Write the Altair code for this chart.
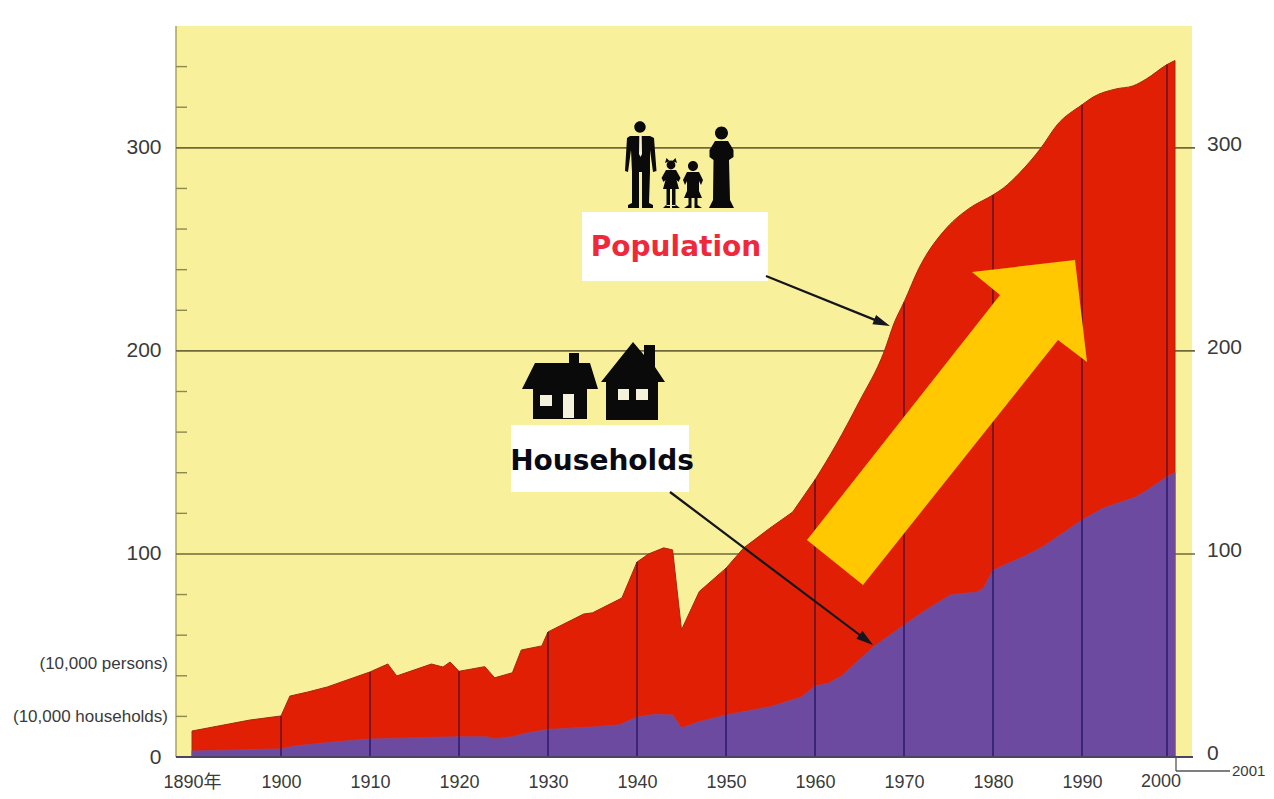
import altair as alt
import pandas as pd

pop_years = [1890,1896.5,1900,1901,1903,1905.2,1910,1912,1913,1916.9,1918.2,1919,1920,1922.9,1924,1926,1927,1929.3,1930,1934,1935,1938.3,1940,1941.3,1943,1944,1945,1947,1950,1952,1954.9,1957.5,1960,1962.4,1964.9,1967.8,1968.9,1970,1971.7,1974.8,1977.4,1980,1981.2,1983,1985.4,1987.2,1990,1991.3,1994,1996,1997.6,2000,2001]
pop_vals = [12.8,18.2,20.2,30,32,34.5,41.9,45.8,39.9,45.8,44.3,46.8,42.2,44.5,39,41.5,52.7,54.7,61.6,70.4,71,78.3,96,100,103,102,62.6,81.5,93,103,112.6,120.7,136.5,154,174.4,200,213.8,224,240.9,260.6,270.4,276.8,280.3,287.7,300,311.3,321.2,325,329,330.5,334,341,343]
hh_years = [1890,1900,1901.5,1905,1908.5,1910,1920,1923,1924,1926,1927.5,1930,1935,1938,1940,1942,1944,1945,1947,1950,1955,1958.5,1960,1961.5,1963,1966.5,1970,1972.1,1975.2,1978.2,1978.9,1980,1983.8,1985.6,1990,1992.5,1996.3,1997.7,2000,2001]
hh_vals = [3,4,5.4,7,8.4,8.9,10,10,9,10,11.7,13.6,14.8,15.8,19.7,21,20.7,14.3,17.4,20.7,24.8,29.6,35,36.3,40,54,65,71.4,79.8,81.3,83,92,99.5,103.6,116.7,122.6,128,131.5,138,140]
decades = [1900,1910,1920,1930,1940,1950,1960,1970,1980,1990,2000]
decade_pop = [20.2,41.9,42.2,61.6,96,93,136.5,224,276.8,321.2,341]
decade_hh = [4,8.9,10,13.6,19.7,20.7,35,65,92,116.7,138]
x_tick_labels = [1890,1900,1910,1920,1930,1940,1950,1960,1970,1980,1990]
grid_vals = [100,200,300]
minor_vals = [20,40,60,80,120,140,160,180,220,240,260,280,320,340]
right_labels = [0,100,200,300]

FONT = "Liberation Sans, Noto Sans CJK JP"
TXT = "#3a3a3a"
W, H = 1016, 731
OX, OY = 176, 26  # image position of the plot's origin

x_scale = alt.Scale(domain=[1888.2,1990,2000,2001,2002.9], range=[0,906,991,999,1016], nice=False, zero=False)
y_scale = alt.Scale(domain=[0,360], range=[731,0], nice=False, zero=False)
X = lambda f: alt.X(f, type="quantitative", scale=x_scale, title=None)
Y = lambda f: alt.Y(f, type="quantitative", scale=y_scale, title=None)

def circle(cx, cy, r):
    return f"M{cx-r} {cy}a{r} {r} 0 1 0 {2*r} 0a{r} {r} 0 1 0 {-2*r} 0Z"

def rect(x0, y0, x1, y1):
    return f"M{x0} {y0}L{x1} {y0}L{x1} {y1}L{x0} {y1}Z"

def arrow(x0, y0, x1, y1, hl=17, hw=5, sw=1.1):
    dx, dy = x1-x0, y1-y0
    n = (dx*dx+dy*dy)**0.5
    ux, uy = dx/n, dy/n
    nx, ny = -uy, ux
    bx, by = x1-ux*hl, y1-uy*hl
    p = [(x0+nx*sw,y0+ny*sw),(bx+nx*sw,by+ny*sw),(bx+nx*hw,by+ny*hw),(x1,y1),(bx-nx*hw,by-ny*hw),(bx-nx*sw,by-ny*sw),(x0-nx*sw,y0-ny*sw)]
    return "M"+"L".join(f"{a:.1f} {b:.1f}" for a,b in p)+"Z"

def shape(path, color):
    return alt.Chart(pd.DataFrame({"k":[0]})).mark_point(shape=path, size=4, filled=True, fill=color, opacity=1, strokeWidth=0).encode(x=alt.value(-OX), y=alt.value(-OY))

def line_px(x0, y0, x1, y1, color, sw=1.5):
    return alt.Chart(pd.DataFrame({"k":[0]})).mark_rule(color=color, strokeWidth=sw).encode(
        x=alt.value(x0-OX), x2=alt.value(x1-OX), y=alt.value(y0-OY), y2=alt.value(y1-OY))

def text_px(s, x, y, **kw):
    return alt.Chart(pd.DataFrame({"t":[s]})).mark_text(**kw).encode(x=alt.value(x-OX), y=alt.value(y-OY), text="t:N")

man = (circle(640,127,5.7)+"M630 136L650 136L654 138L656.5 171L653 172L650 150L650 172L649 203L653 205L653 208L642 208L642 172L639 172L639 208L628 208L628 205L632 203L632 172L631 150L628 172L625 171L627 138Z")
tie = "M639.3 136L641.7 136L642 154L640.5 157L639 154Z"
girl = (circle(671,165,4.4)+"M666.5 158L669.5 161L665 163ZM675.5 158L672.5 161L677 163Z"
        "M666 170L676 170L680.5 178L678.5 182L676.5 180L679 189L663 189L665.5 180L663.5 182L661.5 178Z"
        +rect(666.5,188,670,206)+rect(672,188,675.5,206)+"M663 208L670 208L670 205L666 205ZM672 205L672 208L680 208L676 205Z")
boy = (circle(693,166,5)+"M687 172L699 172L703 180L701 185L699 181L699 191L702 198L697.5 198L697.5 205L702 208L694.5 208L694.5 198L691.5 198L691.5 208L684 208L688.5 205L688.5 198L684 198L687 191L687 181L685 185L683 180Z")
woman = (circle(721.5,133,6.5)+"M715 141L728 141L733.5 150L733.5 157L729 160L730 200L734 208L709 208L713 200L713.5 160L709.5 157L709.5 150Z")
house1 = ("M522 389L535 363L569 363L569 353L579 353L579 363L590 363L598 389L587 389L587 419L533 419L533 389Z")
house1_w = rect(540,395,552,406)+rect(563,394,574,418)
house2 = ("M633 342L644 355L644 345L655 345L655 367L665 382L658 382L658 420L606 420L606 382L601 382Z")
house2_w = rect(618,389,629,400)+rect(636,389,648,400)
big_arrow = "M1075 260L972 272L1000 295L807 540L863 585L1058 340L1087 362Z"

pop = pd.DataFrame({"year":pop_years,"v":pop_vals})
hh = pd.DataFrame({"year":hh_years,"v":hh_vals})
dec = pd.DataFrame({"year":decades,"p":decade_pop,"h":decade_hh})

base_axis = alt.Chart(pd.DataFrame({"year":x_tick_labels,"v":[0]*len(x_tick_labels)})).mark_point(opacity=0).encode(
    x=alt.X("year:Q", scale=x_scale, title=None, axis=alt.Axis(
        values=x_tick_labels, ticks=False, domain=False, grid=False, labelPadding=16, labelFontSize=18, labelFont=FONT,
        labelColor=TXT, labelFlush=False, labelOverlap=False,
        labelExpr="datum.value == 1890 ? '1890年' : datum.value + ''")),
    y=alt.Y("v:Q", scale=y_scale, title=None, axis=alt.Axis(
        values=right_labels, ticks=False, domain=False, grid=False, labelPadding=15, labelFontSize=21, labelFont=FONT,
        labelColor=TXT, labelFlush=False, labelOverlap=False)))

grid = alt.Chart(pd.DataFrame({"v":grid_vals})).mark_rule(color="#6f6a3a", strokeWidth=1.6).encode(
    y=Y("v"), x=alt.value(0), x2=alt.value(1019))
minor = alt.Chart(pd.DataFrame({"v":minor_vals})).mark_rule(color="#8d8850", strokeWidth=1.4).encode(
    y=Y("v"), x=alt.value(0), x2=alt.value(11))
left_edge = line_px(176, 26, 176, 757, "#a8a362", 1.5)

red_early = alt.Chart(pop[pop.year <= 1960]).mark_area(color="#E01F05", stroke="#A8260E", strokeWidth=1).encode(x=X("year"), y=Y("v"))
red_late = alt.Chart(pop[pop.year >= 1960]).mark_area(color="#E01F05", stroke="#A8260E", strokeWidth=1, interpolate="monotone").encode(x=X("year"), y=Y("v"))
purple = alt.Chart(hh).mark_area(color="#6C4A9F", stroke="#8a4a80", strokeWidth=0.8).encode(x=X("year"), y=Y("v"))
rule_red = alt.Chart(dec).mark_rule(color="#6a1226", strokeWidth=1.6).encode(x=X("year"), y=Y("h"), y2="p:Q")
rule_hh = alt.Chart(dec).mark_rule(color="#2f1c70", strokeWidth=1.6).encode(x=X("year"), y=Y("h"), y2=alt.datum(0))

zero_line = line_px(176, 757, 1193, 757, "#4c4460", 1.8)
bracket_v = line_px(1176, 757, 1176, 771, "#555555", 1.3)
bracket_h = line_px(1176, 771, 1230, 771, "#555555", 1.3)
right_ticks = alt.Chart(pd.DataFrame({"v":right_labels})).mark_text(
    align="left", baseline="middle", fontSize=21, font=FONT, color=TXT, dy=-3).encode(
    x=alt.value(1207-OX), y=Y("v"), text="v:Q")

units1 = text_px("(10,000 persons)", 168, 664, align="right", baseline="middle", fontSize=17, font=FONT, color=TXT)
units2 = text_px("(10,000 households)", 168, 717, align="right", baseline="middle", fontSize=17, font=FONT, color=TXT)
lab2000 = alt.Chart(pd.DataFrame({"year":[1999.3],"t":["2000"]})).mark_text(
    baseline="middle", fontSize=18, font=FONT, color=TXT).encode(x=X("year"), y=alt.value(782-OY), text="t:N")
lab2001 = text_px("2001", 1232, 771, align="left", baseline="middle", fontSize=15, font=FONT, color=TXT)

layers = [base_axis, left_edge, grid, minor, red_early, red_late, purple, rule_red, rule_hh, zero_line, bracket_v, bracket_h,
    right_ticks, units1, units2, lab2000, lab2001,
    shape(big_arrow, "#FFC800"),
    shape(rect(582,212,768,281), "#FFFFFF"),
    shape(rect(511,425,689,492), "#FFFFFF"),
    shape(arrow(766,276,890,326), "#15151f"),
    shape(arrow(670,492,873,645), "#15151f"),
    shape(man, "#0a0a0a"), shape(tie, "#f4f0d0"), shape(girl, "#0a0a0a"), shape(boy, "#0a0a0a"), shape(woman, "#0a0a0a"),
    shape(house1, "#0a0a0a"), shape(house1_w, "#f5f2dc"), shape(house2, "#0a0a0a"), shape(house2_w, "#f5f2dc"),
    text_px("Population", 676, 248, align="center", baseline="middle", fontSize=28, fontWeight="bold", font="DejaVu Sans", color="#F0283C"),
    text_px("Households", 602, 462, align="center", baseline="middle", fontSize=28, fontWeight="bold", font="DejaVu Sans", color="#0a0a14"),
]

chart = alt.layer(*layers).resolve_scale(x="shared", y="shared").properties(
    width=W, height=H, autosize="none",
    padding={"left":168,"top":18,"right":74,"bottom":33},
    background="#FFFFFF",
).configure_view(fill="#F9F09C", stroke=None)

chart.save("out.html", embed_options={"renderer":"svg","actions":False})
